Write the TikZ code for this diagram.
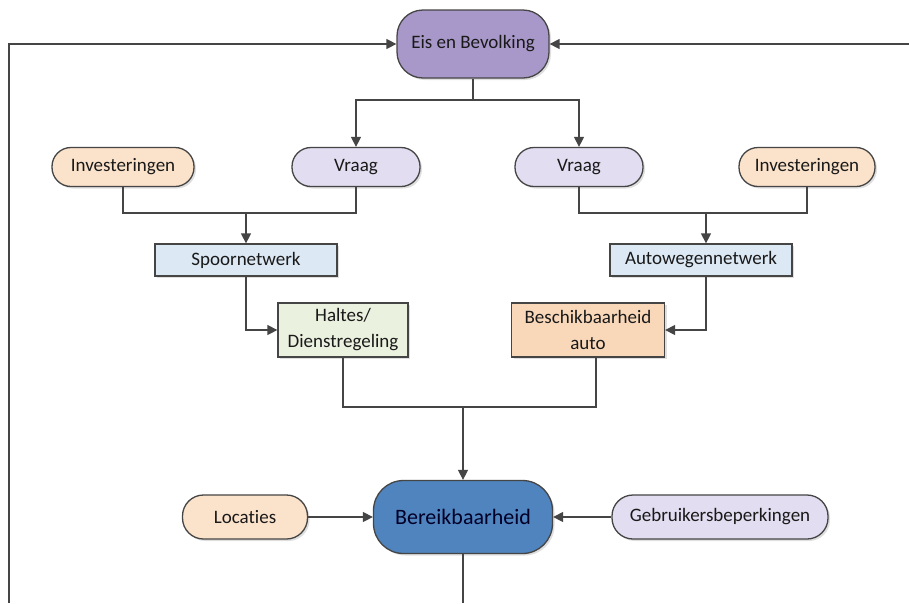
\documentclass[tikz,border=0pt]{standalone}
\usepackage{fontspec}
\setmainfont{Carlito}[RawFeature={-liga;-dlig}]
\usetikzlibrary{arrows.meta,shadows}
\definecolor{lnc}{HTML}{454545}
\definecolor{purp}{HTML}{A898C9}
\definecolor{lav}{HTML}{E2DDF0}
\definecolor{peach}{HTML}{FBE2CB}
\definecolor{peach2}{HTML}{F9D8BA}
\definecolor{lblue}{HTML}{DCE8F4}
\definecolor{lgreen}{HTML}{EBF1DF}
\definecolor{dblue}{HTML}{4F84BF}
\tikzset{
  base/.style={draw=lnc, line width=1.3pt, text=black!90, font=\fontsize{19}{26}\selectfont, inner sep=0pt, align=center,
    drop shadow={shadow xshift=2pt, shadow yshift=-2pt, opacity=0.25}},
  pill/.style={base, rounded corners=19pt, minimum height=39pt},
  boxn/.style={base, rounded corners=0pt, minimum height=32pt},
  conn/.style={draw=lnc, line width=1.4pt},
  arr/.style={conn, -{Triangle[length=10pt,width=10pt]}},
}
\begin{document}
\begin{tikzpicture}[x=1pt,y=-1pt]
\useasboundingbox (0,0) rectangle (909,603);
\fill[white] (0,0) rectangle (909,603);
% nodes
\node[base, fill=purp, rounded corners=26pt, minimum width=152pt, minimum height=68pt] (eis) at (473,44) {Eis en Bevolking};
\node[pill, fill=lav, minimum width=128pt] (vl) at (356,167) {Vraag};
\node[pill, fill=lav, minimum width=128pt] (vr) at (579,167) {Vraag};
\node[pill, fill=peach, minimum width=142pt] (il) at (123,167) {Investeringen};
\node[pill, fill=peach, minimum width=136pt] (ir) at (807,167) {Investeringen};
\node[boxn, fill=lblue, minimum width=182pt] (sp) at (246,260) {Spoornetwerk};
\node[boxn, fill=lblue, minimum width=182pt] (aw) at (701,260) {Autowegennetwerk};
\node[boxn, fill=lgreen, minimum width=130pt, minimum height=54pt] (ha) at (343,330) {Haltes/\\Dienstregeling};
\node[boxn, fill=peach2, minimum width=153pt, minimum height=54pt] (be) at (588,330) {Beschikbaarheid\\auto};
\node[base, fill=dblue, rounded corners=30pt, minimum width=179pt, minimum height=73pt, text=black!85!blue] (bb) at (463,517) {\fontsize{22}{24}\selectfont Bereikbaarheid};
\node[pill, fill=peach, rounded corners=21pt, minimum width=125pt, minimum height=44pt] (lo) at (245,517) {Locaties};
\node[pill, fill=lav, rounded corners=21pt, minimum width=216pt, minimum height=44pt] (gb) at (720,517) {Gebruikersbeperkingen};
% coordinates
\coordinate (lt) at (9,44);
\coordinate (lb) at (9,603);
\coordinate (rt) at (909,44);
\coordinate (bot) at (463,603);
\coordinate (split) at (473,100);
\coordinate (jl) at (246,213);
\coordinate (jr) at (706,213);
\coordinate (jb) at (463,407);
% connectors
\draw[arr] (lb) -- (lt) -- (eis.west);
\draw[arr] (rt) -- (eis.east);
\draw[conn] (eis.south) -- (split);
\draw[arr] (split) -| (vl.north);
\draw[arr] (split) -| (vr.north);
\draw[conn] (il.south) |- (jl) -| (vl.south);
\draw[arr] (jl) -- (sp.north);
\draw[conn] (ir.south) |- (jr) -| (vr.south);
\draw[arr] (jr) -- (jr |- aw.north);
\draw[arr] (sp.south) |- (ha.west);
\draw[arr] (jr |- aw.south) |- (be.east);
\draw[conn] (ha.south) |- (jb) -| ([xshift=8pt]be.south);
\draw[arr] (jb) -- (bb.north);
\draw[arr] (lo.east) -- (bb.west);
\draw[arr] (gb.west) -- (bb.east);
\draw[conn] (bb.south) -- (bot);
\end{tikzpicture}
\end{document}
